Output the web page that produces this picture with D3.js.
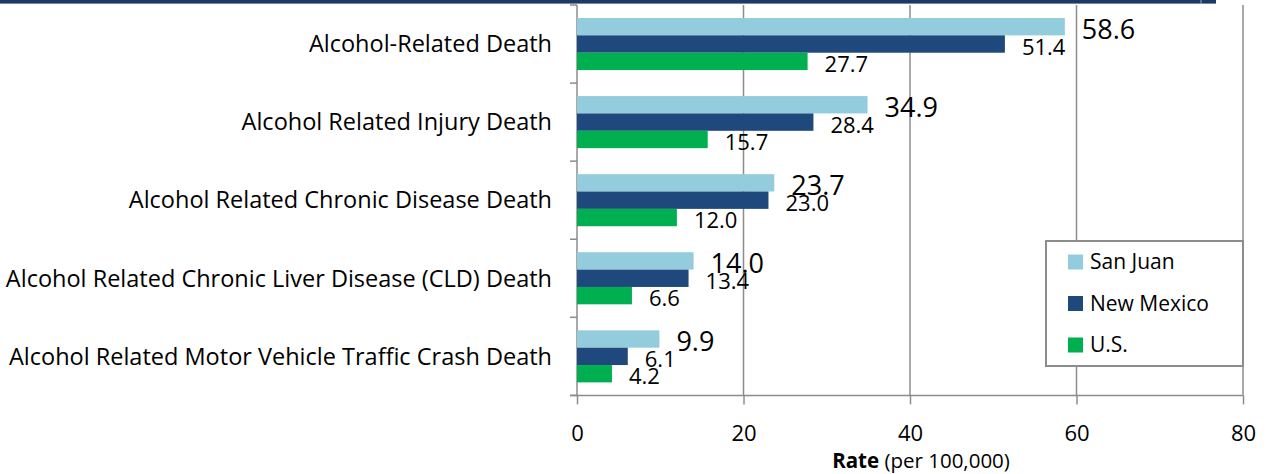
<!DOCTYPE html>
<html>
<head>
<meta charset="utf-8">
<script src="https://cdn.jsdelivr.net/npm/d3@7"></script>
<style>
  body { margin: 0; background: #fff; }
  svg { font-family: "Open Sans", Lato, sans-serif; }
  .grid line { stroke: #8c8c8c; stroke-width: 1.5; }
</style>
</head>
<body>
<script>
// chart data
var categories = [
  "Alcohol-Related Death",
  "Alcohol Related Injury Death",
  "Alcohol Related Chronic Disease Death",
  "Alcohol Related Chronic Liver Disease (CLD) Death",
  "Alcohol Related Motor Vehicle Traffic Crash Death"
];
var seriesNames = ["San Juan", "New Mexico", "U.S."];
var sanJuan   = [58.6, 34.9, 23.7, 14.0, 9.9];
var newMexico = [51.4, 28.4, 23.0, 13.4, 6.1];
var us        = [27.7, 15.7, 12.0, 6.6, 4.2];
var xTicks = [0, 20, 40, 60, 80];

var colors = ["#93CDDD", "#1F497D", "#00B050"];
var labelSizes = [27, 22, 22];

var width = 1271, height = 474;
var margin = {left: 577, right: 28, top: 5, bottom: 78};

var svg = d3.select("body").append("svg")
    .attr("width", width)
    .attr("height", height);

// dark band along the top
svg.append("rect").attr("x", 0).attr("y", 0).attr("width", 1216).attr("height", 3).attr("fill", "#1F3864");
svg.append("line").attr("x1", 0).attr("x2", 1216).attr("y1", 3.5).attr("y2", 3.5).attr("stroke", "#6d87b0").attr("stroke-width", 1);
svg.append("line").attr("x1", 1201).attr("x2", 1201).attr("y1", 0).attr("y2", 4).attr("stroke", "#9aa6b8").attr("stroke-width", 1);

var x = d3.scaleLinear()
    .domain([0, 80])
    .range([margin.left, width - margin.right]);

var y = d3.scaleBand()
    .domain(categories)
    .range([margin.top, height - margin.bottom - 0.6]);

var bw = y.bandwidth();
var yInner = d3.scaleBand()
    .domain(seriesNames)
    .range([13, bw - 13]);

// vertical gridlines
svg.append("g").attr("class", "grid")
    .selectAll("line")
    .data(xTicks.slice(1))
    .enter().append("line")
    .attr("x1", function(d){ return x(d); })
    .attr("x2", function(d){ return x(d); })
    .attr("y1", y.range()[0])
    .attr("y2", y.range()[1]);

// bottom axis
var xAxis = svg.append("g")
    .attr("transform", "translate(0," + y.range()[1] + ")")
    .call(d3.axisBottom(x).tickValues(xTicks).tickSize(9).tickPadding(21).tickSizeOuter(0));
xAxis.select(".domain").attr("d", "M570,0H" + x(80)).attr("stroke", "#8c8c8c").attr("stroke-width", 1.5);
xAxis.selectAll(".tick line").attr("stroke", "#8c8c8c").attr("stroke-width", 1.5);
xAxis.selectAll(".tick text").attr("font-size", 22).attr("fill", "#000").attr("font-family", "Open Sans");

// left axis with ticks at the category boundaries
var yAxis = svg.append("g").attr("transform", "translate(" + margin.left + ",0)");
yAxis.append("line")
    .attr("x1", 0).attr("x2", 0)
    .attr("y1", y.range()[0]).attr("y2", y.range()[1])
    .attr("stroke", "#8c8c8c").attr("stroke-width", 1.5);
var bounds = categories.map(function(c){ return y(c); }).concat([y.range()[1]]);
yAxis.selectAll(".ytick")
    .data(bounds)
    .enter().append("line")
    .attr("x1", -7).attr("x2", 0)
    .attr("y1", function(d){ return d; })
    .attr("y2", function(d){ return d; })
    .attr("stroke", "#8c8c8c").attr("stroke-width", 1.5);

yAxis.selectAll(".cat")
    .data(categories)
    .enter().append("text")
    .attr("x", -25)
    .attr("y", function(d){ return y(d) + bw / 2; })
    .attr("dy", "0.35em")
    .attr("text-anchor", "end")
    .attr("font-size", 23.5)
    .text(function(d){ return d; });

// bars
var seriesData = [sanJuan, newMexico, us];
seriesData.forEach(function(vals, s){
    var g = svg.append("g");
    g.selectAll("rect")
        .data(vals)
        .enter().append("rect")
        .attr("x", x(0))
        .attr("y", function(d, i){ return y(categories[i]) + yInner(seriesNames[s]); })
        .attr("width", function(d){ return x(d) - x(0); })
        .attr("height", yInner.bandwidth())
        .attr("fill", colors[s]);
    g.selectAll("text")
        .data(vals)
        .enter().append("text")
        .attr("x", function(d){ return x(d) + 17; })
        .attr("y", function(d, i){ return y(categories[i]) + yInner(seriesNames[s]) + yInner.bandwidth() / 2 + 3; })
        .attr("dy", "0.35em")
        .attr("font-size", labelSizes[s])
        .text(function(d){ return d3.format(".1f")(d); });
});

// axis title
var title = svg.append("text")
    .attr("x", 921)
    .attr("y", 461)
    .attr("dy", "0.35em")
    .attr("text-anchor", "middle")
    .attr("font-size", 20.5);
title.append("tspan").attr("font-weight", "bold").text("Rate");
title.append("tspan").text(" (per 100,000)");

// legend
var legend = svg.append("g");
legend.append("rect")
    .attr("x", 1046).attr("y", 241)
    .attr("width", x(80) - 1046).attr("height", 125)
    .attr("fill", "#fff")
    .attr("stroke", "#8c8c8c").attr("stroke-width", 2);
var items = legend.selectAll(".item")
    .data(seriesNames)
    .enter().append("g")
    .attr("transform", function(d, i){ return "translate(1068," + (262 + i * 41.5) + ")"; });
items.append("rect")
    .attr("x", 0).attr("y", -7.5)
    .attr("width", 15).attr("height", 15)
    .attr("fill", function(d, i){ return colors[i]; });
items.append("text")
    .attr("x", 22).attr("dy", "0.35em")
    .attr("font-size", 21)
    .text(function(d){ return d; });
</script>
</body>
</html>
